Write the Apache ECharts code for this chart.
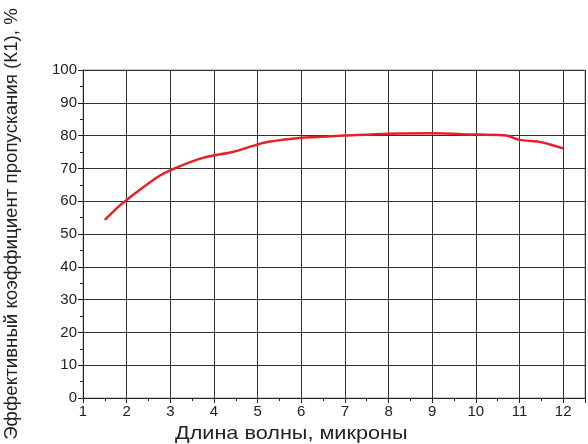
<!DOCTYPE html>
<html>
<head>
<meta charset="utf-8">
<script src="https://cdn.jsdelivr.net/npm/echarts@6/dist/echarts.min.js"></script>
<style>
  html, body { margin: 0; padding: 0; background: #fff; }
  #chart { width: 588px; height: 444px; }
</style>
</head>
<body>
<div id="chart"></div>
<script>
// длина волны, мкм
var wavelength = [1.5, 1.8, 2.0, 2.7, 3.1, 3.75, 4.45, 4.95, 5.25, 5.95, 7.0, 8.0, 9.0, 10.0, 10.7, 11.0, 11.5, 12.0]
// коэффициент пропускания, %
var transmission = [54.3, 58.2, 60.4, 67.3, 70.0, 73.2, 75.1, 77.1, 78.1, 79.3, 80.0, 80.6, 80.7, 80.3, 80.0, 78.7, 78.0, 76.1]
var xTicks = [1, 2, 3, 4, 5, 6, 7, 8, 9, 10, 11, 12]
var yTicks = [0, 10, 20, 30, 40, 50, 60, 70, 80, 90, 100]

var myChart = echarts.init(document.getElementById('chart'))
var font = 'Liberation Sans, Arial, sans-serif'

var points = wavelength.map(function(x, i) {
  return [x, transmission[i]]
})

var option = {
  animation: false,
  backgroundColor: '#fff',
  grid: {
    left: 83,
    right: 1,
    top: 70,
    bottom: 46,
    show: true,
    borderColor: '#999',
    borderWidth: 1
  },
  xAxis: {
    type: 'value',
    min: 1,
    max: 12.5,
    interval: 1,
    axisLine: { show: true, onZero: false, lineStyle: { color: '#222', width: 1 } },
    axisTick: { show: true, inside: false, length: 5, lineStyle: { color: '#222' } },
    minorTick: { show: true, splitNumber: 2, length: 3, lineStyle: { color: '#222' } },
    axisLabel: {
      color: '#222',
      fontSize: 15,
      fontFamily: font,
      margin: 6,
      formatter: function(v) {
        return xTicks.indexOf(v) >= 0 ? String(v) : ''
      }
    },
    splitLine: { show: true, lineStyle: { color: '#333', width: 1 } }
  },
  yAxis: {
    type: 'value',
    min: 0,
    max: 100,
    interval: 10,
    axisLine: { show: true, onZero: false, lineStyle: { color: '#222', width: 1 } },
    axisTick: { show: true, inside: false, length: 5, lineStyle: { color: '#222' } },
    minorTick: { show: true, splitNumber: 2, length: 3, lineStyle: { color: '#222' } },
    axisLabel: {
      color: '#222',
      fontSize: 15,
      fontFamily: font,
      margin: 6,
      formatter: function(v) {
        return yTicks.indexOf(v) >= 0 ? String(v) : ''
      }
    },
    splitLine: { show: true, lineStyle: { color: '#333', width: 1 } }
  },
  graphic: [
    {
      type: 'text',
      x: 175,
      y: 424,
      scaleX: 1.14,
      style: {
        text: 'Длина волны, микроны',
        fill: '#222',
        font: '19px ' + font
      }
    },
    {
      type: 'text',
      x: 2,
      y: 224,
      rotation: Math.PI / 2,
      style: {
        text: 'Эффективный коэффициент пропускания (К1), %',
        fill: '#222',
        font: '18.7px ' + font,
        align: 'center',
        verticalAlign: 'top'
      }
    }
  ],
  series: [
    {
      type: 'line',
      data: points,
      showSymbol: false,
      smooth: 0.3,
      lineStyle: { color: '#e8202a', width: 2.5 }
    }
  ]
}

myChart.setOption(option, true)
window.onresize = function() {
  myChart.resize()
}
</script>
</body>
</html>
